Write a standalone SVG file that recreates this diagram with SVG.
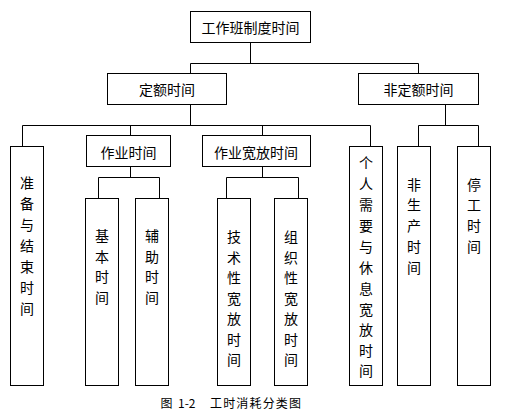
<svg xmlns="http://www.w3.org/2000/svg" width="507" height="416" viewBox="0 0 507 416">
<style>
rect{fill:#fff;stroke:#000;stroke-width:1}
.c path{fill:none;stroke:#000;stroke-width:1}
text{font-family:"Noto Sans CJK SC","Noto Sans",sans-serif;font-size:14px;fill:#000;text-anchor:middle;dominant-baseline:central}
.cap{font-size:12px;text-anchor:start}
</style>
<rect x="0" y="0" width="507" height="416" style="stroke:none"/>
<g class="c" id="connectors">
<path d="M250.5,42.5V63.5M190.5,63.5H418.5M190.5,63.5V73.5M418.5,63.5V73.5"/>
<path d="M190.5,104.5V125.5M22.5,125.5H370.5M22.5,125.5V146.5M130.5,125.5V135.5M262.5,125.5V135.5M370.5,125.5V146.5"/>
<path d="M445.5,104.5V125.5M418.5,125.5H478.5M418.5,125.5V146.5M478.5,125.5V146.5"/>
<path d="M130.5,166.5V177.5M98.5,177.5H159.5M98.5,177.5V198.5M159.5,177.5V198.5"/>
<path d="M262.5,166.5V177.5M226.5,177.5H298.5M226.5,177.5V198.5M298.5,177.5V198.5"/>
</g>
<g id="n-root"><rect x="190.5" y="11.5" width="120" height="31"/><text x="250.5" y="27">工作班制度时间</text></g>
<g id="n-dinge"><rect x="107.5" y="73.5" width="119" height="31"/><text x="167" y="89">定额时间</text></g>
<g id="n-feidinge"><rect x="358.5" y="73.5" width="120" height="31"/><text x="418.5" y="89">非定额时间</text></g>
<g id="n-zuoye"><rect x="86.5" y="135.5" width="84" height="31"/><text x="128.5" y="151.5">作业时间</text></g>
<g id="n-kuanfang"><rect x="202.5" y="135.5" width="108" height="31"/><text x="256" y="151.5">作业宽放时间</text></g>
<g id="n-zhunbei"><rect x="10.5" y="146.5" width="33" height="239"/>
<text><tspan x="27" y="182">准</tspan><tspan x="27" y="203">备</tspan><tspan x="27" y="224">与</tspan><tspan x="27" y="245">结</tspan><tspan x="27" y="266">束</tspan><tspan x="27" y="287">时</tspan><tspan x="27" y="308">间</tspan></text></g>
<g id="n-jiben"><rect x="85.5" y="198.5" width="33" height="187"/>
<text><tspan x="102" y="235">基</tspan><tspan x="102" y="255.5">本</tspan><tspan x="102" y="276">时</tspan><tspan x="102" y="296.5">间</tspan></text></g>
<g id="n-fuzhu"><rect x="135.5" y="198.5" width="33" height="187"/>
<text><tspan x="152" y="235">辅</tspan><tspan x="152" y="255.5">助</tspan><tspan x="152" y="276">时</tspan><tspan x="152" y="296.5">间</tspan></text></g>
<g id="n-jishu"><rect x="217.5" y="198.5" width="33" height="187"/>
<text><tspan x="234" y="236">技</tspan><tspan x="234" y="256.5">术</tspan><tspan x="234" y="277">性</tspan><tspan x="234" y="297.5">宽</tspan><tspan x="234" y="318">放</tspan><tspan x="234" y="338.5">时</tspan><tspan x="234" y="359">间</tspan></text></g>
<g id="n-zuzhi"><rect x="274.5" y="198.5" width="33" height="187"/>
<text><tspan x="291" y="236">组</tspan><tspan x="291" y="256.5">织</tspan><tspan x="291" y="277">性</tspan><tspan x="291" y="297.5">宽</tspan><tspan x="291" y="318">放</tspan><tspan x="291" y="338.5">时</tspan><tspan x="291" y="359">间</tspan></text></g>
<g id="n-geren"><rect x="349.5" y="146.5" width="33" height="239"/>
<text><tspan x="366" y="162">个</tspan><tspan x="366" y="183">人</tspan><tspan x="366" y="204">需</tspan><tspan x="366" y="225">要</tspan><tspan x="366" y="246">与</tspan><tspan x="366" y="267">休</tspan><tspan x="366" y="288">息</tspan><tspan x="366" y="309">宽</tspan><tspan x="366" y="329">放</tspan><tspan x="366" y="349.5">时</tspan><tspan x="366" y="370">间</tspan></text></g>
<g id="n-feishengchan"><rect x="397.5" y="146.5" width="33" height="239"/>
<text><tspan x="414" y="183.5">非</tspan><tspan x="414" y="204">生</tspan><tspan x="414" y="225">产</tspan><tspan x="414" y="246">时</tspan><tspan x="414" y="266.5">间</tspan></text></g>
<g id="n-tinggong"><rect x="457.5" y="146.5" width="33" height="239"/>
<text><tspan x="474" y="183.5">停</tspan><tspan x="474" y="204">工</tspan><tspan x="474" y="225">时</tspan><tspan x="474" y="246">间</tspan></text></g>
<g id="caption"><text class="cap" y="401.5"><tspan x="160.5">图</tspan><tspan x="178">1-2</tspan><tspan x="210" textLength="91" lengthAdjust="spacing">工时消耗分类图</tspan></text></g>
</svg>
